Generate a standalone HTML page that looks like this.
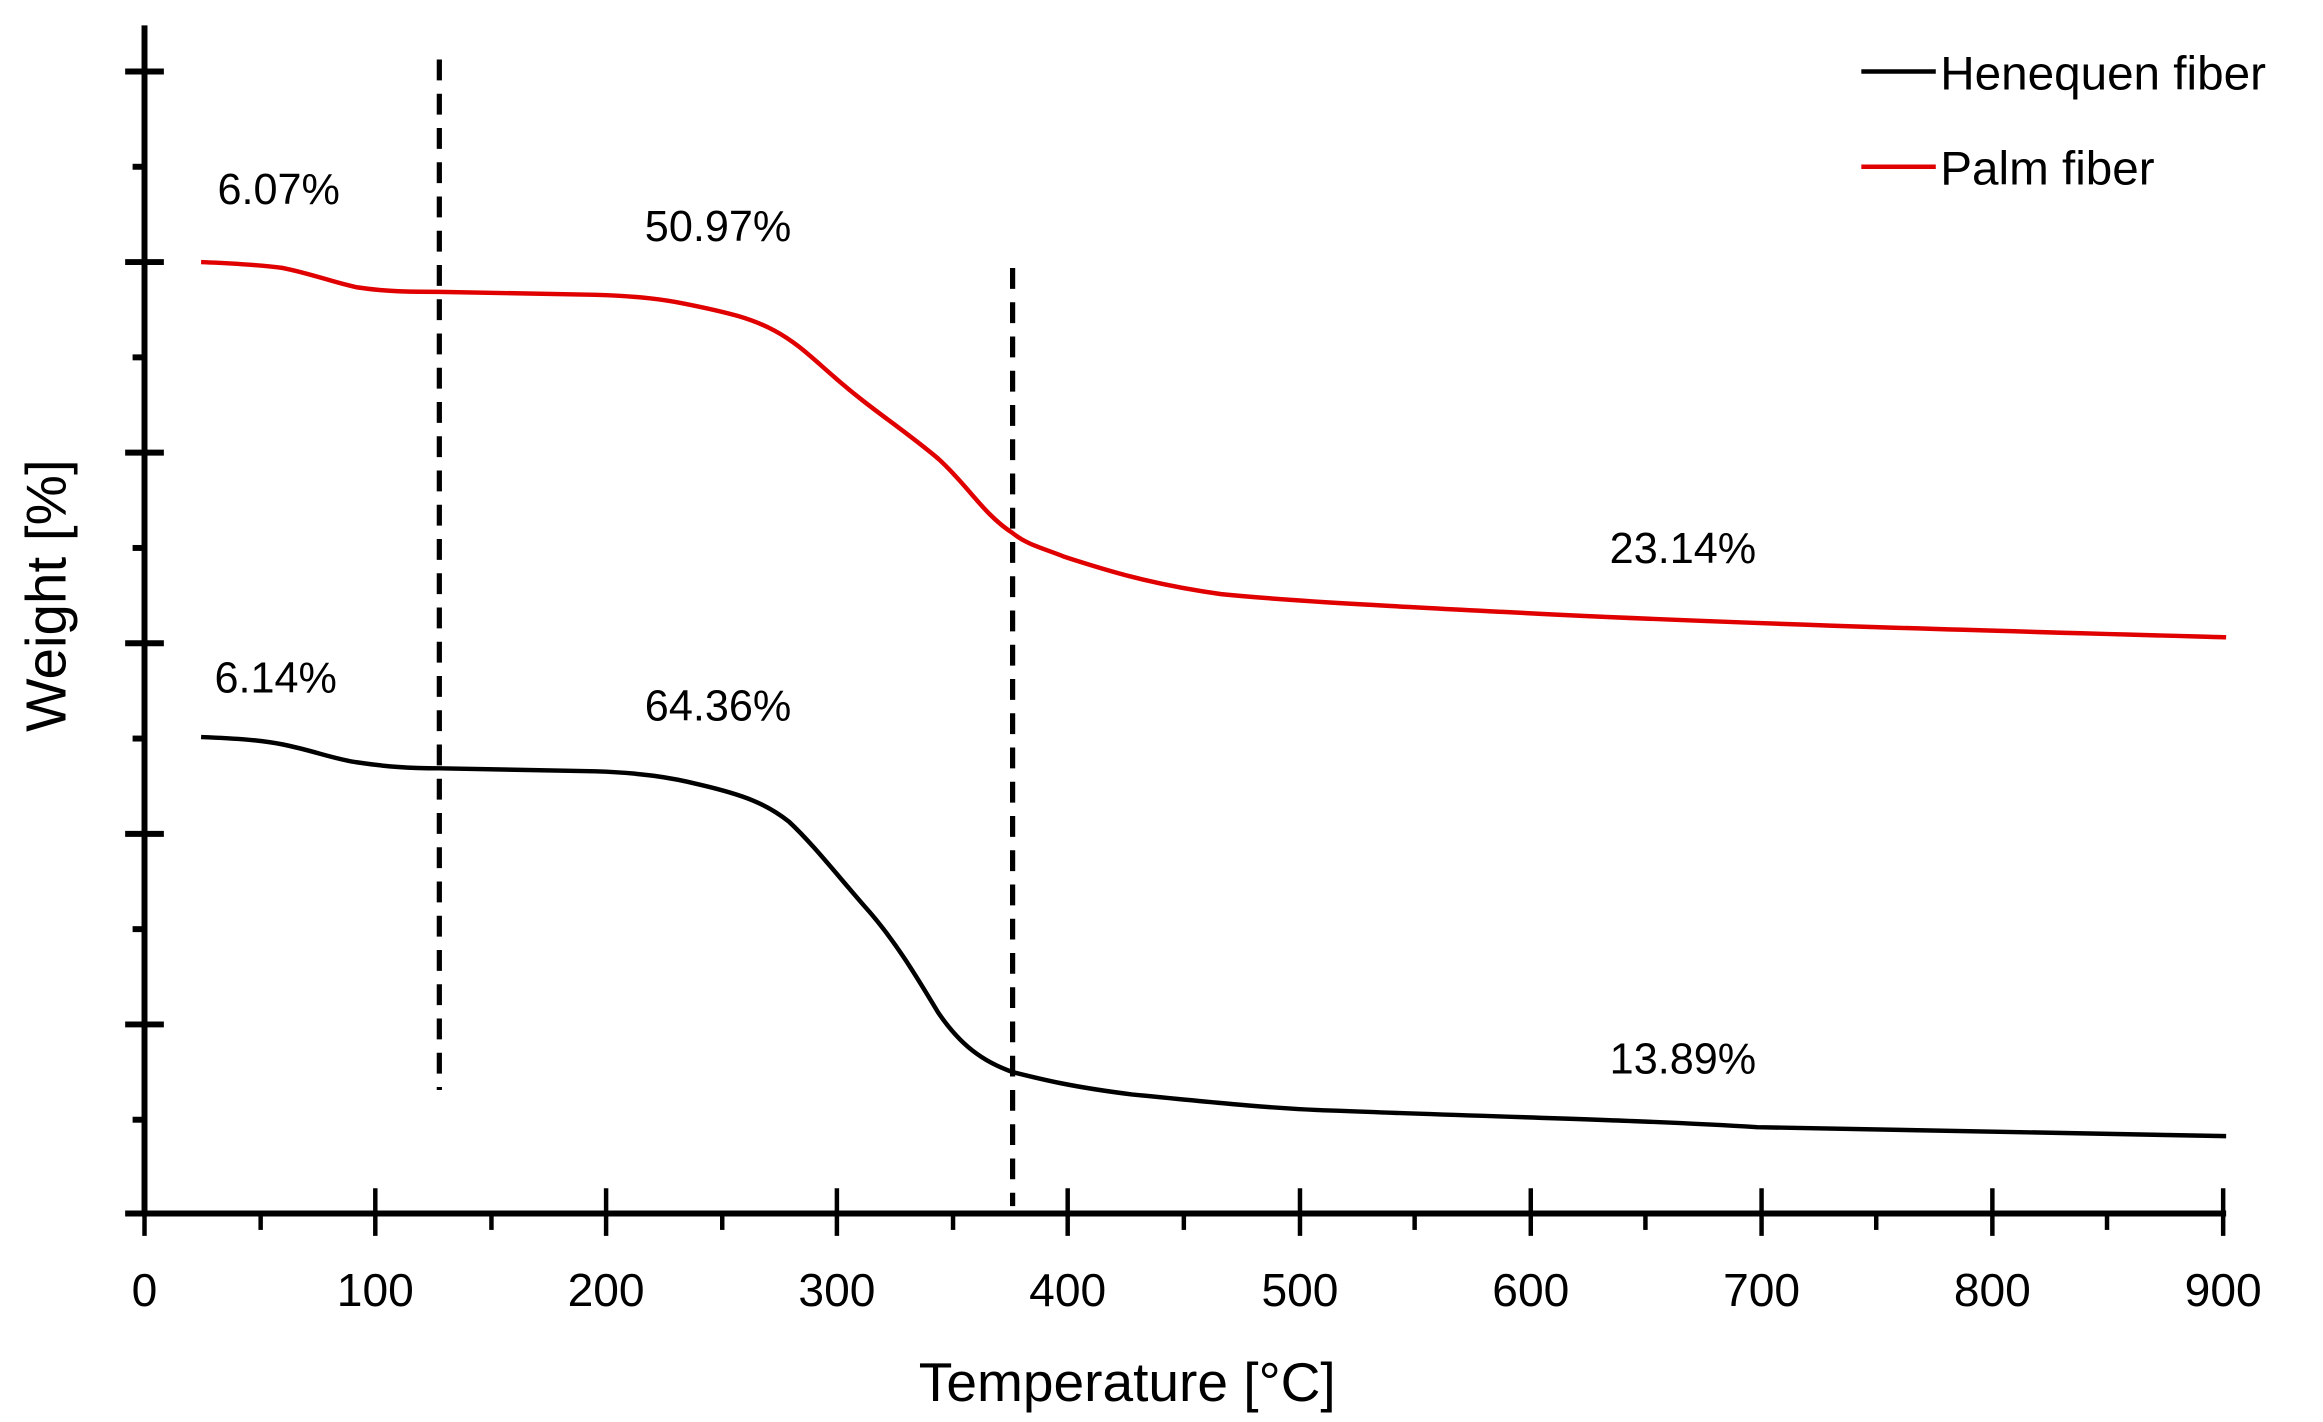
<!DOCTYPE html>
<html><head><meta charset="utf-8"><style>html,body{margin:0;padding:0;background:#fff}svg{display:block}text{font-family:"Liberation Sans",sans-serif;fill:#000}</style></head>
<body>
<svg width="2323" height="1422" viewBox="0 0 1560 955" xmlns="http://www.w3.org/2000/svg">
<g stroke="#000" stroke-width="4" fill="none">
<line x1="97" y1="17" x2="97" y2="817"/>
<line x1="84" y1="815" x2="1495" y2="815"/>
<line x1="84" y1="48" x2="110" y2="48"/><line x1="84" y1="176" x2="110" y2="176"/><line x1="84" y1="304" x2="110" y2="304"/><line x1="84" y1="432" x2="110" y2="432"/><line x1="84" y1="560" x2="110" y2="560"/><line x1="84" y1="688" x2="110" y2="688"/>
<line x1="89" y1="112" x2="97" y2="112"/><line x1="89" y1="240" x2="97" y2="240"/><line x1="89" y1="368" x2="97" y2="368"/><line x1="89" y1="496" x2="97" y2="496"/><line x1="89" y1="624" x2="97" y2="624"/><line x1="89" y1="752" x2="97" y2="752"/>
</g>
<g stroke="#000" stroke-width="3">
<line x1="97" y1="798" x2="97" y2="830"/><line x1="252" y1="798" x2="252" y2="830"/><line x1="407" y1="798" x2="407" y2="830"/><line x1="562" y1="798" x2="562" y2="830"/><line x1="717" y1="798" x2="717" y2="830"/><line x1="873" y1="798" x2="873" y2="830"/><line x1="1028" y1="798" x2="1028" y2="830"/><line x1="1183" y1="798" x2="1183" y2="830"/><line x1="1338" y1="798" x2="1338" y2="830"/><line x1="1493" y1="798" x2="1493" y2="830"/>
<line x1="175" y1="815" x2="175" y2="826"/><line x1="330" y1="815" x2="330" y2="826"/><line x1="485" y1="815" x2="485" y2="826"/><line x1="640" y1="815" x2="640" y2="826"/><line x1="795" y1="815" x2="795" y2="826"/><line x1="950" y1="815" x2="950" y2="826"/><line x1="1105" y1="815" x2="1105" y2="826"/><line x1="1260" y1="815" x2="1260" y2="826"/><line x1="1415" y1="815" x2="1415" y2="826"/>
</g>
<g stroke="#000" stroke-width="3.5" stroke-dasharray="14,9">
<line x1="295" y1="40" x2="295" y2="732"/>
<line x1="680" y1="180" x2="680" y2="810"/>
</g>
<path d="M135,176 C160,177 175,178 190,180 C210,184 225,190 240,193 C260,196 275,196 295,196 L400,198 C430,199 445,201 460,204 C490,210 505,214 520,222 C535,230 545,240 560,253 C585,275 605,287 630,308 C650,326 660,345 680,358 C690,366 700,368 715,374 C740,382 770,392 820,399 C870,404 950,408 1050,413 C1200,420 1350,424 1495,428" stroke="#e00000" stroke-width="3" fill="none"/>
<path d="M135,495 C160,496 175,497 190,500 C210,504 225,510 240,512 C260,515 275,516 295,516 L400,518 C430,519 450,522 470,527 C500,534 515,540 530,552 C545,566 560,585 580,608 C600,630 615,655 630,680 C645,702 660,713 680,720 C700,725 720,730 760,735 C820,741 860,745 900,746 C1000,750 1100,752 1180,757 C1300,760 1400,761 1495,763" stroke="#000" stroke-width="3" fill="none"/>
<g font-size="29">
<text x="146" y="137">6.07%</text>
<text x="433" y="162">50.97%</text>
<text x="1081" y="378">23.14%</text>
<text x="144" y="465">6.14%</text>
<text x="433" y="484">64.36%</text>
<text x="1081" y="721">13.89%</text>
</g>
<g font-size="31" text-anchor="middle">
<text x="97" y="877">0</text><text x="252" y="877">100</text><text x="407" y="877">200</text><text x="562" y="877">300</text><text x="717" y="877">400</text><text x="873" y="877">500</text><text x="1028" y="877">600</text><text x="1183" y="877">700</text><text x="1338" y="877">800</text><text x="1493" y="877">900</text>
</g>
<text x="757" y="941" font-size="37" text-anchor="middle">Temperature [°C]</text>
<text transform="translate(44,400) rotate(-90)" font-size="38" text-anchor="middle">Weight [%]</text>
<line x1="1250" y1="48" x2="1300" y2="48" stroke="#000" stroke-width="3"/>
<line x1="1250" y1="112" x2="1300" y2="112" stroke="#e00000" stroke-width="3"/>
<text x="1303" y="60" font-size="32">Henequen fiber</text>
<text x="1303" y="124" font-size="32">Palm fiber</text>
</svg>
</body></html>
